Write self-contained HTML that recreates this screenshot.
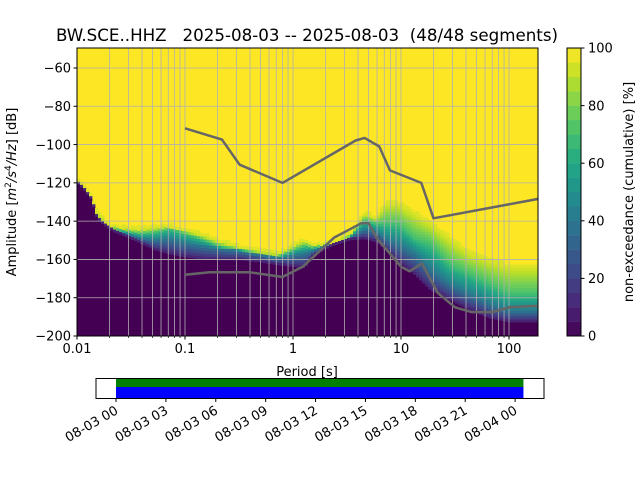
<!DOCTYPE html>
<html><head><meta charset="utf-8"><style>
html,body{margin:0;padding:0;background:#fff;}
svg{display:block;font-family:"DejaVu Sans","Liberation Sans",sans-serif;}
</style></head><body>
<svg id="chart" width="640" height="480" viewBox="0 0 640 480">
<defs><clipPath id="plotclip"><rect x="77" y="48" width="461" height="288"/></clipPath></defs>
<text x="307" y="41" font-size="16.7" text-anchor="middle" style="white-space:pre">BW.SCE..HHZ   2025-08-03 -- 2025-08-03  (48/48 segments)</text>
<g id="heat" clip-path="url(#plotclip)"></g>
<g id="grid" clip-path="url(#plotclip)"></g>
<g id="models" clip-path="url(#plotclip)"></g>
<rect x="77" y="48" width="461" height="288" fill="none" stroke="#000" stroke-width="1"/>
<g id="axes"></g>
<text x="307" y="376" font-size="13" text-anchor="middle">Period [s]</text>
<text transform="translate(16,192) rotate(-90)" font-size="13" text-anchor="middle">Amplitude [<tspan font-style="italic">m</tspan><tspan font-size="9" dy="-5">2</tspan><tspan dy="5" font-style="italic">/s</tspan><tspan font-size="9" dy="-5">4</tspan><tspan dy="5" font-style="italic">/Hz</tspan>] [dB]</text>
<g id="cbar"></g>
<text transform="translate(633,192) rotate(-90)" font-size="13" text-anchor="middle">non-exceedance (cumulative) [%]</text>
<g id="timeline"></g>
</svg>
<script>
// PPSD column data: periods and dB percentile levels
const periods = [0.010,0.0116,0.0136,0.0153,0.0177,0.0200,0.0222,0.0275,0.0383,0.0526,0.072,0.100,0.138,0.210,0.320,0.480,0.730,1.10,1.29,1.54,2.3,3.4,4.6,5.9,7.2,9.4,13.5,18.7,28.2,43,66,100,158,190];
const p10 = [-120,-123.7,-129,-138.4,-142,-144,-145.7,-147.8,-151.4,-155.1,-157.2,-158.7,-159.8,-160.3,-160.3,-161.3,-162.9,-164,-164.5,-158.2,-153,-149.8,-149.3,-150.9,-155.1,-161.3,-168.1,-176,-181.2,-186.4,-190.6,-192.7,-192.7,-192.7];
const p40 = [-119.8,-123.4,-128.7,-137.8,-141.4,-143.6,-145.2,-146.8,-149.5,-150.5,-149.8,-152,-153.5,-155,-156.1,-158.2,-160,-158,-157.5,-156,-152.5,-149,-145,-146,-149.8,-152.4,-157.7,-165.5,-173.4,-178.6,-183.8,-187.5,-187.5,-187.5];
const p70 = [-119.5,-123.1,-128.4,-137.3,-140.9,-143.3,-144.8,-145.8,-147.2,-146.5,-144.5,-147.2,-149.8,-154,-155.5,-157.5,-159,-155,-153.5,-154.5,-152.2,-148.5,-140,-142,-142,-142,-149.8,-152.4,-163,-168.1,-173.4,-178.6,-178.6,-178.6];
const p95 = [-119,-122.7,-128,-136.8,-140.4,-143,-143.6,-144.6,-145.1,-144.1,-143.6,-145.7,-147.8,-151.4,-154.5,-156.6,-158.2,-152.4,-150.9,-154,-151.9,-147.8,-136.8,-139.4,-131.6,-131.6,-136.8,-142,-149.8,-157.7,-161.3,-164.5,-164.5,-164.5];
// Peterson noise models
const nhnmT = [0.1,0.22,0.32,0.8,3.8,4.6,6.3,7.9,15.4,20,186];
const nhnmDb = [-91.5,-97.4,-110.5,-120,-97.9,-96.5,-101,-113.5,-120,-138.5,-128.4];
const nlnmT = [0.1,0.17,0.4,0.8,1.24,2.4,4.3,5,6,10,12,15.6,21.9,31.6,45,70,101,154,190];
const nlnmDb = [-168,-166.7,-166.7,-169.2,-163.7,-148.6,-141.1,-141.1,-149,-163.8,-166.2,-162.1,-177.5,-185,-187.5,-187.5,-185,-184.4,-184.2];
const xTicks = [0.01,0.1,1,10,100];
const xTickLabels = ["0.01","0.1","1","10","100"];
const yTicks = [-60,-80,-100,-120,-140,-160,-180,-200];
const cbTicks = [0,20,40,60,80,100];
const timeLabels = ["08-03 00","08-03 03","08-03 06","08-03 09","08-03 12","08-03 15","08-03 18","08-03 21","08-04 00"];
const timeTicksH = [0,3,6,9,12,15,18,21,24];
const coverageStartH = 0, coverageEndH = 24.5;

const NS='http://www.w3.org/2000/svg';
function X(p){return 77+(Math.log10(p)+2)*108;}
function Y(db){return 336-(db+200)*1.9143;}
function mk(parent,tag,attrs){const e=document.createElementNS(NS,tag);for(const k in attrs)e.setAttribute(k,attrs[k]);parent.appendChild(e);return e;}
const vir=["#440154","#482475","#414487","#355f8d","#2a788e","#21918c","#22a884","#44bf70","#7ad151","#bddf26","#fde725"];
function hex(c){return [1,3,5].map(i=>parseInt(c.substr(i,2),16));}
function viridis(f){f=Math.max(0,Math.min(1,f));const s=f*10,i=Math.min(9,Math.floor(s)),t=s-i;const a=hex(vir[i]),b=hex(vir[i+1]);return 'rgb('+a.map((v,k)=>Math.round(v+(b[k]-v)*t)).join(',')+')';}
function at(arr,lp){const L=periods.map(p=>Math.log10(p));
  if(lp<=L[0])return arr[0];if(lp>=L[L.length-1])return arr[arr.length-1];
  for(let i=0;i<L.length-1;i++)if(lp>=L[i]&&lp<=L[i+1]){const t=(lp-L[i])/(L[i+1]-L[i]);return arr[i]+(arr[i+1]-arr[i])*t;}}

const heat=document.getElementById('heat');
let bg=mk(heat,'rect',{x:77,y:48,width:461,height:288,fill:'#fde725'});


const step=3;
for(let x0=77;x0<538;x0+=step){
  const lp=(x0+step/2-77)/108-2;
  const a=at(p10,lp),b=at(p40,lp),c=at(p70,lp),d95=Math.max(at(p95,lp),c);
  const g=mk(heat,'g',{});
  
  
  const yp=Y(a);
  mk(g,'rect',{x:x0,y:yp,width:step+0.4,height:336-yp+1,fill:'#440154'});
  const lv=[[a,0.1],[b,0.4],[c,0.7],[d95,0.95]];
  for(let d=a;d<d95+1.5;d+=1.5){
    let f=0.95;
    for(let k=0;k<3;k++){if(d>=lv[k][0]&&d<=lv[k+1][0]){const span=lv[k+1][0]-lv[k][0];f=span>0?lv[k][1]+(d-lv[k][0])/span*(lv[k+1][1]-lv[k][1]):lv[k+1][1];break;}}
    mk(g,'rect',{x:x0,y:Y(d+1.5),width:step+0.4,height:1.9143*1.5+0.3,fill:viridis(f)});
  }
}
// grid
const grid=document.getElementById('grid');
for(let e=-2;e<=2;e++)for(let m=1;m<=9;m++){const p=m*Math.pow(10,e);if(p>190)continue;
  const gl=mk(grid,'line',{x1:X(p),x2:X(p),y1:48,y2:336,stroke:'#b0b0b0','stroke-width':0.8});
  }
yTicks.forEach(v=>{const gl=mk(grid,'line',{x1:77,x2:538,y1:Y(v),y2:Y(v),stroke:'#b0b0b0','stroke-width':0.8});
  });
// models
const models=document.getElementById('models');
function line(T,D,name){const pts=T.map((t,i)=>X(t).toFixed(1)+','+Y(D[i]).toFixed(1)).join(' ');
  const pl=mk(models,'polyline',{points:pts,fill:'none',stroke:'#666666','stroke-width':2.5,'stroke-linejoin':'round'});
  }
line(nhnmT,nhnmDb,'nhnm-line');line(nlnmT,nlnmDb,'nlnm-line');
// axes ticks
const axes=document.getElementById('axes');
xTicks.forEach((p,i)=>{mk(axes,'line',{x1:X(p),x2:X(p),y1:336,y2:339.5,stroke:'#000'});
  const t=mk(axes,'text',{x:X(p),y:353,'font-size':13,'text-anchor':'middle'});t.textContent=xTickLabels[i];
  });
for(let e=-2;e<=2;e++)for(let m=2;m<=9;m++){const p=m*Math.pow(10,e);if(p>190)continue;mk(axes,'line',{x1:X(p),x2:X(p),y1:336,y2:338,stroke:'#000','stroke-width':0.7});}
yTicks.forEach(v=>{mk(axes,'line',{x1:73.5,x2:77,y1:Y(v),y2:Y(v),stroke:'#000'});
  const t=mk(axes,'text',{x:71,y:Y(v)+4.7,'font-size':13,'text-anchor':'end'});t.textContent=String(v).replace('-','\u2212');
  });
// colorbar
const cb=document.getElementById('cbar');
for(let i=0;i<20;i++){mk(cb,'rect',{x:567,y:336-(i+1)*14.4,width:14,height:14.6,fill:viridis((i+0.5)/20)});}
mk(cb,'rect',{x:567,y:48,width:14,height:288,fill:'none',stroke:'#000','stroke-width':1});
cbTicks.forEach(v=>{const y=336-v*2.88;mk(cb,'line',{x1:581,x2:584.5,y1:y,y2:y,stroke:'#000'});
  const t=mk(cb,'text',{x:588,y:y+4.7,'font-size':13});t.textContent=v;
  });
// timeline
const tl=document.getElementById('timeline');
function TX(h){return 116+h*16.63;}
const gr=mk(tl,'rect',{x:TX(coverageStartH),y:379,width:TX(coverageEndH)-TX(coverageStartH),height:8,fill:'#008000'});

const bl=mk(tl,'rect',{x:TX(coverageStartH),y:387,width:TX(coverageEndH)-TX(coverageStartH),height:11,fill:'#0000ff'});

mk(tl,'rect',{x:96,y:378.5,width:448,height:20,fill:'none',stroke:'#000','stroke-width':1});
timeTicksH.forEach((h,i)=>{const x=TX(h);mk(tl,'line',{x1:x,x2:x,y1:398.5,y2:402,stroke:'#000'});
  const t=mk(tl,'text',{'font-size':13,'text-anchor':'end',transform:'translate('+(x+3)+',413) rotate(-30)'});t.textContent=timeLabels[i];
  });
</script>
</body></html>
